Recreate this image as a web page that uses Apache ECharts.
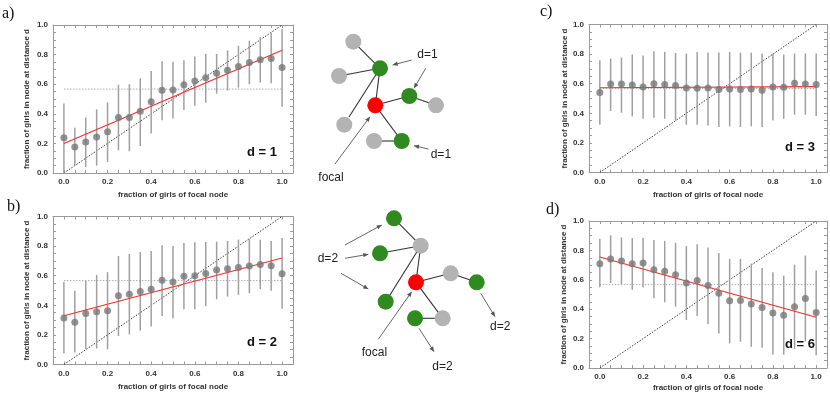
<!DOCTYPE html>
<html>
<head>
<meta charset="utf-8">
<script src="https://cdn.jsdelivr.net/npm/echarts@6/dist/echarts.min.js"></script>
<style>
html,body{margin:0;padding:0;background:#fff;}
#c{width:830px;height:396px;}
</style>
</head>
<body>
<div id="c"></div>
<script>
// ---------- data ----------
const xVals = [0,0.05,0.1,0.15,0.2,0.25,0.3,0.35,0.4,0.45,0.5,0.55,0.6,0.65,0.7,0.75,0.8,0.85,0.9,0.95,1.0];

const d1Mean = [0.238,0.176,0.21,0.244,0.278,0.375,0.375,0.418,0.482,0.559,0.561,0.597,0.622,0.643,0.674,0.695,0.72,0.747,0.765,0.774,0.713];
const d1Low  = [0.0,0.05,0.04,0.05,0.075,0.154,0.147,0.183,0.267,0.357,0.369,0.425,0.455,0.475,0.536,0.557,0.577,0.6,0.611,0.606,0.448];
const d1High = [0.47,0.305,0.375,0.43,0.477,0.597,0.6,0.64,0.69,0.755,0.751,0.762,0.787,0.805,0.805,0.828,0.86,0.894,0.918,0.946,0.975];
const d1Fit  = [0.2,0.83];

const d2Mean = [0.314,0.285,0.344,0.357,0.364,0.464,0.475,0.493,0.509,0.57,0.557,0.597,0.6,0.615,0.638,0.647,0.656,0.665,0.676,0.667,0.613];
const d2Low  = [0.075,0.081,0.104,0.109,0.102,0.192,0.204,0.229,0.256,0.328,0.312,0.373,0.373,0.396,0.441,0.459,0.471,0.482,0.509,0.498,0.376];
const d2High = [0.557,0.498,0.566,0.606,0.624,0.733,0.747,0.76,0.767,0.805,0.8,0.821,0.826,0.828,0.83,0.835,0.844,0.848,0.844,0.835,0.855];
const d2Fit  = [0.33,0.72];

const d3Mean = [0.54,0.598,0.598,0.591,0.578,0.6,0.594,0.587,0.571,0.569,0.571,0.56,0.564,0.56,0.564,0.555,0.578,0.576,0.603,0.598,0.594];
const d3Low  = [0.323,0.415,0.404,0.379,0.363,0.37,0.363,0.352,0.323,0.323,0.318,0.307,0.312,0.307,0.312,0.307,0.352,0.363,0.39,0.39,0.381];
const d3High = [0.758,0.77,0.777,0.797,0.79,0.82,0.815,0.808,0.804,0.815,0.81,0.81,0.815,0.81,0.81,0.804,0.804,0.797,0.804,0.804,0.804];
const d3Fit  = [0.573,0.58];

const d6Mean = [0.71,0.742,0.728,0.71,0.715,0.669,0.658,0.635,0.578,0.596,0.562,0.509,0.457,0.459,0.436,0.411,0.374,0.358,0.416,0.473,0.377];
const d6Low  = [0.55,0.578,0.571,0.532,0.548,0.475,0.447,0.418,0.326,0.354,0.297,0.235,0.167,0.178,0.144,0.137,0.091,0.091,0.13,0.18,0.087];
const d6High = [0.879,0.902,0.888,0.884,0.884,0.87,0.865,0.852,0.829,0.842,0.82,0.783,0.742,0.742,0.71,0.68,0.651,0.628,0.703,0.765,0.664];
const d6Fit  = [0.755,0.345];

const baseline = 0.567;
const panelTexts = ['d = 1','d = 2','d = 3','d = 6'];
const xName = 'fraction of girls of focal node';
const yName = 'fraction of girls in node at distance d';

// ---------- layout ----------
const panels = [
  {mean:d1Mean, low:d1Low, high:d1High, fit:d1Fit, grid:{left:53, top:25, width:240, height:148}, xGap:18, yGap:22, label:[262,152]},
  {mean:d2Mean, low:d2Low, high:d2High, fit:d2Fit, grid:{left:53, top:216.5, width:240, height:148}, xGap:18, yGap:22, label:[262,342]},
  {mean:d3Mean, low:d3Low, high:d3High, fit:d3Fit, grid:{left:589, top:24.5, width:240.5, height:148}, xGap:18, yGap:17, label:[800,147]},
  {mean:d6Mean, low:d6Low, high:d6High, fit:d6Fit, grid:{left:589, top:221, width:240.5, height:147}, xGap:16, yGap:21, label:[800,344]}
];

const FONT = '"Liberation Sans", Arial, sans-serif';
const frameColor = '#9a9a9a';

function lblX(v){
  if (v < -1e-6 || v > 1 + 1e-6) return '';
  return Math.abs(v*5 - Math.round(v*5)) < 1e-6 ? v.toFixed(1) : '';
}

const grids = [], xAxes = [], yAxes = [], series = [];
panels.forEach((p, i) => {
  grids.push(Object.assign({show:false}, p.grid));
  const common = {
    type:'value', gridIndex:i, interval:0.05,
    axisLine:{show:true, onZero:false, lineStyle:{color:frameColor, width:1}},
    axisTick:{show:true, inside:true, length:3, lineStyle:{color:frameColor, width:1}},
    splitLine:{show:false}
  };
  xAxes.push(Object.assign({}, common, {
    position:'bottom', min:-0.05, max:1.05,
    axisLabel:{show:true, interval:0, formatter:lblX, fontFamily:FONT, fontWeight:'bold', fontSize:8, color:'#333', margin:5},
    name:xName, nameLocation:'middle', nameGap:p.xGap,
    nameTextStyle:{fontFamily:FONT, fontWeight:'bold', fontSize:8, color:'#333'}
  }));
  xAxes.push(Object.assign({}, common, {position:'top', min:-0.05, max:1.05, axisLabel:{show:false}}));
  yAxes.push(Object.assign({}, common, {
    position:'left', min:0, max:1,
    axisLabel:{show:true, interval:0, formatter:lblX, fontFamily:FONT, fontWeight:'bold', fontSize:8, color:'#333', margin:5},
    name:yName, nameLocation:'middle', nameGap:p.yGap,
    nameTextStyle:{fontFamily:FONT, fontWeight:'bold', fontSize:8, color:'#333'}
  }));
  yAxes.push(Object.assign({}, common, {position:'right', min:0, max:1, axisLabel:{show:false}}));

  const xi = 2*i, yi = 2*i;
  const n = xVals.length;
  // baseline (dotted gray)
  series.push({type:'line', xAxisIndex:xi, yAxisIndex:yi, silent:true, symbol:'none', z:1,
    data:[[xVals[0], baseline],[xVals[n-1], baseline]],
    lineStyle:{color:'#aaa', width:1, type:[1.5,1.5]}});
  // diagonal
  series.push({type:'line', xAxisIndex:xi, yAxisIndex:yi, silent:true, symbol:'none', z:2,
    data:[[xVals[0], xVals[0]],[xVals[n-1], xVals[n-1]]],
    lineStyle:{color:'#222', width:0.9, type:[1.5,1.5]}});
  // error bars
  series.push({type:'custom', xAxisIndex:xi, yAxisIndex:yi, silent:true, z:3,
    data: xVals.map((x,k)=>[x, p.low[k], p.high[k]]),
    encode:{x:0, y:[1,2]},
    renderItem:(params, api)=>{
      const a = api.coord([api.value(0), api.value(1)]);
      const b = api.coord([api.value(0), api.value(2)]);
      return {type:'line', shape:{x1:a[0], y1:a[1], x2:b[0], y2:b[1]}, style:{stroke:'#a0a0a0', lineWidth:1.5}};
    }});
  // fit line
  series.push({type:'line', xAxisIndex:xi, yAxisIndex:yi, silent:true, symbol:'none', z:4,
    data:[[xVals[0], p.fit[0]],[xVals[n-1], p.fit[1]]],
    lineStyle:{color:'#ff2a2a', width:1.1}});
  // means
  series.push({type:'scatter', xAxisIndex:xi, yAxisIndex:yi, silent:true, z:5,
    symbol:'circle', symbolSize:7,
    data: xVals.map((x,k)=>[x, p.mean[k]]),
    itemStyle:{color:'#777777'}});
});

// ---------- decorative graphics ----------
const gfx = [];
function txt(x, y, s, opt){
  gfx.push({type:'text', x:x, y:y, z:50, silent:true,
    style:Object.assign({text:s, fill:'#222', font:'12px ' + FONT, textAlign:'left', textVerticalAlign:'middle'}, opt||{})});
}
function seg(x1,y1,x2,y2,color,w){
  gfx.push({type:'line', z:40, silent:true, shape:{x1,y1,x2,y2}, style:{stroke:color||'#333', lineWidth:w||1.1}});
}
function arrow(x1,y1,x2,y2){
  seg(x1,y1,x2,y2,'#555',0.9);
  const ang = Math.atan2(y2-y1, x2-x1), L = 5, W = 2.2;
  const bx = x2 - L*Math.cos(ang), by = y2 - L*Math.sin(ang);
  const px = -Math.sin(ang)*W, py = Math.cos(ang)*W;
  gfx.push({type:'polygon', z:41, silent:true, shape:{points:[[x2,y2],[bx+px,by+py],[bx-px,by-py]]}, style:{fill:'#555'}});
}
function node(x,y,color){
  gfx.push({type:'circle', z:45, silent:true, shape:{cx:x, cy:y, r:8}, style:{fill:color}});
}
const GR='#b3b3b3', GN='#2f8a1f', RD='#ff0000';

// panel letters
[['a)',2,14],['b)',7,207],['c)',540,12],['d)',546,210]].forEach(l=>{
  txt(l[1], l[2], l[0], {font:'16px "Liberation Serif", "Times New Roman", serif', fill:'#111'});
});
// d = N
panels.forEach((p,i)=>{
  txt(p.label[0], p.label[1], panelTexts[i], {font:'bold 13px ' + FONT, fill:'#111', textAlign:'center'});
});

// network a
seg(353.3,41.7,380,68.3); seg(339,76,380,68.3); seg(380,68.3,349,117); seg(380,68.3,375.3,105.3);
seg(375.3,105.3,409.3,96); seg(409.3,96,436,105.3); seg(375.3,105.3,401.7,141); seg(374,141,401.7,141);
node(353.3,41.7,GR); node(339,76,GR); node(344.3,124.7,GR); node(436,105.3,GR); node(374,141,GR);
node(380,68.3,GN); node(409.3,96,GN); node(401.7,141,GN); node(375.3,105.3,RD);
arrow(411.7,60,392.7,65); arrow(425.7,68.3,414,88.3); arrow(428.3,149,414,145.7); arrow(335,164,370,116.7);
txt(417.3,55,'d=1'); txt(430.7,154.3,'d=1'); txt(318.3,177.7,'focal');

// network b
seg(394,218.3,420.7,245.7); seg(380,253.3,420.7,245.7); seg(420.7,245.7,385.7,301.7); seg(420.7,245.7,416,282.3);
seg(416,282.3,450.7,273.3); seg(450.7,273.3,476.7,282.3); seg(416,282.3,442.7,318.3); seg(415,318.3,442.7,318.3);
node(420.7,245.7,GR); node(450.7,273.3,GR); node(442.7,318.3,GR);
node(394,218.3,GN); node(380,253.3,GN); node(385.7,301.7,GN); node(415,318.3,GN); node(476.7,282.3,GN);
node(416,282.3,RD);
arrow(345,245,381.7,225); arrow(345,258.3,368.3,254.3); arrow(341,273.3,368.3,289);
arrow(378.3,339.3,411.7,291.7); arrow(419,328.3,434,351.7); arrow(480.7,293.3,495,316.7);
txt(317.7,259,'d=2'); txt(361.7,352.3,'focal'); txt(432.3,366.7,'d=2'); txt(490,327,'d=2');

const chart = echarts.init(document.getElementById('c'), null, {renderer:'canvas'});
chart.setOption({
  animation:false,
  backgroundColor:'#ffffff',
  grid:grids, xAxis:xAxes, yAxis:yAxes, series:series,
  graphic:gfx
});
</script>
</body>
</html>
